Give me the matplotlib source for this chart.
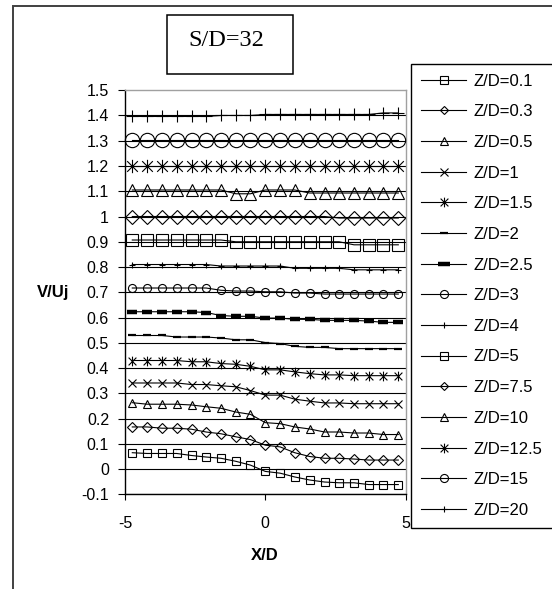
import matplotlib
matplotlib.use('Agg')
import matplotlib.pyplot as plt
from matplotlib.lines import Line2D
from matplotlib.patches import Rectangle
from matplotlib.path import Path

# X/D stations along the traverse
x_d = [-4.74, -4.21, -3.68, -3.16, -2.63, -2.11, -1.58, -1.05, -0.53, 0.0,
       0.53, 1.05, 1.58, 2.11, 2.63, 3.16, 3.68, 4.21, 4.74]

labels = ['Z/D=0.1', 'Z/D=0.3', 'Z/D=0.5', 'Z/D=1', 'Z/D=1.5', 'Z/D=2',
          'Z/D=2.5', 'Z/D=3', 'Z/D=4', 'Z/D=5', 'Z/D=7.5', 'Z/D=10',
          'Z/D=12.5', 'Z/D=15', 'Z/D=20']

# V/Uj profiles, each height stacked 0.1 above the previous one
zd_01 = [0.065, 0.062, 0.062, 0.062, 0.054, 0.048, 0.043, 0.031, 0.016, -0.009,
         -0.016, -0.031, -0.043, -0.051, -0.054, -0.054, -0.061, -0.061, -0.061]
zd_03 = [0.167, 0.167, 0.162, 0.162, 0.158, 0.147, 0.140, 0.128, 0.117, 0.095,
         0.088, 0.065, 0.050, 0.043, 0.043, 0.040, 0.036, 0.036, 0.036]
zd_05 = [0.263, 0.257, 0.257, 0.257, 0.254, 0.247, 0.241, 0.226, 0.217, 0.184,
         0.180, 0.167, 0.159, 0.147, 0.147, 0.143, 0.143, 0.137, 0.137]
zd_1 = [0.341, 0.341, 0.341, 0.341, 0.335, 0.335, 0.330, 0.326, 0.311, 0.293,
        0.293, 0.277, 0.269, 0.262, 0.262, 0.259, 0.259, 0.259, 0.259]
zd_15 = [0.430, 0.430, 0.430, 0.430, 0.425, 0.425, 0.418, 0.415, 0.407, 0.393,
         0.393, 0.385, 0.378, 0.373, 0.373, 0.370, 0.370, 0.370, 0.370]
zd_2 = [0.529, 0.529, 0.529, 0.523, 0.523, 0.523, 0.519, 0.512, 0.512, 0.501,
        0.497, 0.486, 0.482, 0.482, 0.477, 0.477, 0.477, 0.477, 0.477]
zd_25 = [0.623, 0.623, 0.623, 0.623, 0.623, 0.620, 0.608, 0.605, 0.605, 0.598,
         0.598, 0.593, 0.593, 0.589, 0.589, 0.589, 0.586, 0.581, 0.581]
zd_3 = [0.717, 0.717, 0.717, 0.717, 0.717, 0.717, 0.708, 0.705, 0.705, 0.702,
        0.702, 0.697, 0.697, 0.693, 0.693, 0.693, 0.693, 0.693, 0.693]
zd_4 = [0.810, 0.810, 0.810, 0.810, 0.810, 0.810, 0.804, 0.804, 0.804, 0.804,
        0.804, 0.795, 0.795, 0.795, 0.795, 0.789, 0.789, 0.789, 0.789]
zd_5 = [0.907, 0.907, 0.907, 0.907, 0.907, 0.907, 0.907, 0.900, 0.900, 0.900,
        0.900, 0.900, 0.900, 0.900, 0.900, 0.888, 0.888, 0.888, 0.888]
zd_75 = [1.000, 1.000, 1.000, 1.000, 1.000, 1.000, 1.000, 1.000, 1.000, 1.000,
         1.000, 1.000, 1.000, 1.000, 0.994, 0.994, 0.994, 0.994, 0.994]
zd_10 = [1.105, 1.105, 1.105, 1.105, 1.105, 1.105, 1.105, 1.090, 1.090, 1.105,
         1.105, 1.105, 1.093, 1.093, 1.093, 1.093, 1.093, 1.093, 1.093]
zd_125 = [1.200, 1.200, 1.200, 1.200, 1.200, 1.200, 1.200, 1.200, 1.200, 1.200,
          1.200, 1.200, 1.200, 1.200, 1.200, 1.200, 1.200, 1.200, 1.200]
zd_15b = [1.302, 1.302, 1.302, 1.302, 1.302, 1.302, 1.302, 1.302, 1.302, 1.302,
          1.302, 1.302, 1.302, 1.302, 1.302, 1.302, 1.302, 1.302, 1.302]
zd_20 = [1.396, 1.396, 1.396, 1.396, 1.396, 1.396, 1.400, 1.400, 1.400, 1.404,
         1.404, 1.404, 1.404, 1.404, 1.404, 1.404, 1.404, 1.410, 1.410]

profiles = [zd_01, zd_03, zd_05, zd_1, zd_15, zd_2, zd_25, zd_3, zd_4,
            zd_5, zd_75, zd_10, zd_125, zd_15b, zd_20]

y_ticks = [-0.1, 0.0, 0.1, 0.2, 0.3, 0.4, 0.5, 0.6, 0.7, 0.8, 0.9, 1.0,
           1.1, 1.2, 1.3, 1.4, 1.5]
x_ticks = [-5, 0, 5]

# excel style asterisk: an x with a vertical bar through it
asterisk = Path([(-1, -1), (1, 1), (-1, 1), (1, -1), (0, -1.25), (0, 1.25)],
                [Path.MOVETO, Path.LINETO] * 3)

# marker, size on the plot, size in the legend, edge width
styles = [
    ('s', 5.4, 5.4, 0.8),
    ('D', 4.6, 4.3, 0.8),
    ('^', 5.8, 5.8, 0.8),
    ('x', 5.8, 5.8, 0.8),
    (asterisk, 7.0, 7.0, 0.8),
    ('_', 6.0, 6.0, 1.6),
    ('_', 7.5, 8.0, 3.2),
    ('o', 5.8, 5.8, 0.8),
    ('+', 5.0, 5.0, 0.8),
    ('s', 9.0, 5.4, 0.8),
    ('D', 6.8, 4.3, 0.8),
    ('^', 8.8, 5.8, 0.8),
    (asterisk, 9.6, 7.0, 0.8),
    ('o', 10.3, 5.8, 0.8),
    ('+', 8.6, 5.0, 0.8),
]

plt.rcParams['font.family'] = ['Liberation Sans', 'DejaVu Sans']

W, H = 552, 589
fig = plt.figure(figsize=(W / 100, H / 100), dpi=100)
fig.patch.set_facecolor('white')

# outer chart frame, runs off the right and bottom edges
fig.add_artist(Rectangle((13.4 / W, -0.1), 1.2, 1.1 - 5.6 / H,
                         transform=fig.transFigure, fill=False,
                         ec='#404040', lw=1.4))

ax = fig.add_axes([125 / W, 1 - 494.4 / H, 280.6 / W, 404.2 / H])

handles = []
for lab, vals, (mk, ms, ms_leg, mew) in zip(labels, profiles, styles):
    ax.plot(x_d, vals, color='black', lw=0.8, marker=mk, ms=ms, mew=mew,
            mfc='none', mec='black', clip_on=False, zorder=3)
    handles.append(Line2D([], [], color='black', lw=0.8, marker=mk,
                          ms=ms_leg, mew=mew, mfc='none', mec='black'))

ax.set_xlim(-5, 5)
ax.set_ylim(-0.1, 1.5)
ax.set_xticks(x_ticks)
ax.set_xticklabels(['%g' % t for t in x_ticks])
ax.set_yticks(y_ticks)
ax.set_yticklabels(['%g' % t for t in y_ticks])

ax.yaxis.grid(True, color='black', lw=0.8)
ax.yaxis.get_gridlines()[-1].set_visible(False)
ax.set_axisbelow(True)

for side in ['left', 'bottom']:
    ax.spines[side].set_color('black')
    ax.spines[side].set_linewidth(1.0)
for side in ['top', 'right']:
    ax.spines[side].set_color('#a0a0a0')
    ax.spines[side].set_linewidth(1.0)

ax.tick_params(axis='y', direction='out', length=5, width=0.8,
               labelsize=11.5, pad=6.5)
ax.tick_params(axis='x', direction='out', length=4.2, width=0.8,
               labelsize=11.5, pad=11)

fig.text(53.5 / W, 1 - 292 / H, 'V/Uj', weight='bold', size=12,
         ha='center', va='center')
fig.text(265 / W, 1 - 555 / H, 'X/D', weight='bold', size=12,
         ha='center', va='center')

# title box
fig.add_artist(Rectangle((167 / W, 1 - 73.6 / H), 125.7 / W, 58.6 / H,
                         transform=fig.transFigure, fill=False,
                         ec='black', lw=1.1))
fig.text(226 / W, 1 - 40.5 / H, 'S/D=32', family='Liberation Serif',
         size=17.5, ha='center', va='center')

leg_top = 1 - 63.5 / H
leg = fig.legend(handles, labels, loc='upper left',
                 bbox_to_anchor=(410.6 / W, leg_top - 0.8, 145 / W, 0.8),
                 bbox_transform=fig.transFigure, mode='expand',
                 fancybox=False, framealpha=1, edgecolor='black',
                 borderpad=0.6, labelspacing=0.94, handlelength=2.75,
                 handletextpad=0.42, borderaxespad=0,
                 prop={'family': 'Liberation Sans', 'size': 12})
leg.get_frame().set_linewidth(1.0)

fig.savefig('out.png', dpi=100)
